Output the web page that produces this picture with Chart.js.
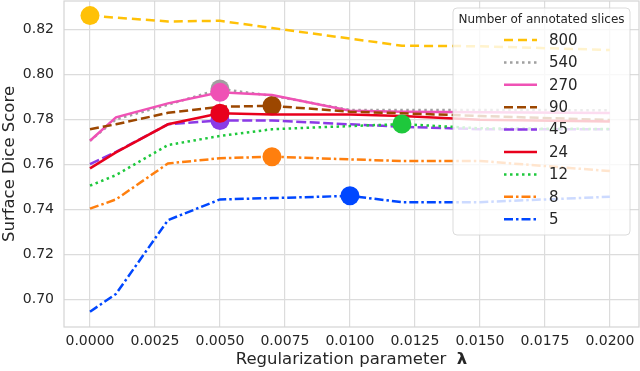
<!DOCTYPE html>
<html><head><meta charset="utf-8">
<script src="https://cdn.jsdelivr.net/npm/chart.js@4/dist/chart.umd.min.js"></script>
<style>html,body{margin:0;padding:0;background:#fff;}#wrap{width:640px;height:371px;position:relative;}</style>
</head><body><div id="wrap"><canvas id="c"></canvas></div>
<script>
const lambdas = [0, 0.001, 0.003, 0.005, 0.007, 0.01, 0.012, 0.015, 0.02];
const seriesNames = ['800', '540', '270', '90', '45', '24', '12', '8', '5'];
const s800 = [0.8261, 0.8252, 0.8235, 0.8238, 0.8206, 0.8159, 0.8127, 0.8125, 0.8108];
const s540 = [0.7705, 0.7800, 0.7865, 0.7935, 0.7905, 0.7842, 0.7842, 0.7842, 0.7840];
const s270 = [0.7705, 0.7809, 0.7871, 0.7920, 0.7908, 0.7838, 0.7834, 0.7832, 0.7828];
const s90  = [0.7756, 0.7778, 0.7829, 0.7856, 0.7860, 0.7834, 0.7827, 0.7815, 0.7797];
const s45  = [0.7601, 0.7655, 0.7778, 0.7795, 0.7795, 0.7778, 0.7767, 0.7756, 0.7756];
const s24  = [0.7582, 0.7653, 0.7778, 0.7827, 0.7822, 0.7822, 0.7815, 0.7798, 0.7790];
const s12  = [0.7505, 0.7552, 0.7686, 0.7726, 0.7756, 0.7770, 0.7779, 0.7760, 0.7757];
const s8   = [0.7403, 0.7444, 0.7604, 0.7627, 0.7634, 0.7622, 0.7615, 0.7615, 0.7570];
const s5   = [0.6945, 0.7024, 0.7352, 0.7444, 0.7450, 0.7460, 0.7432, 0.7432, 0.7456];
const bestIdx = [0, 3, 3, 4, 3, 3, 6, 4, 5];
const xTicks = [0, 0.0025, 0.005, 0.0075, 0.01, 0.0125, 0.015, 0.0175, 0.02];
const yTicks = [0.70, 0.72, 0.74, 0.76, 0.78, 0.80, 0.82];

const allSeries = [s800, s540, s270, s90, s45, s24, s12, s8, s5];
const styles = [
  {color:'#ffc107', dash:[9,5], w:2.5},
  {color:'#a0a0a0', dash:[2.5,3.5], w:2.5},
  {color:'#ef52b5', dash:[], w:2.5},
  {color:'#9c4700', dash:[9,4], w:2.5},
  {color:'#8b3ae6', dash:[10,3.5], w:2.5},
  {color:'#e8001c', dash:[], w:2.5},
  {color:'#1ec83c', dash:[2.5,3.5], w:2.5},
  {color:'#ff7f0e', dash:[9,3,2.5,3], w:2.5},
  {color:'#0047ff', dash:[9,3,2.5,3], w:2.5}
];
const FONT = "'DejaVu Sans', sans-serif";
const TXT = '#262626';

const datasets = [];
for (let i = allSeries.length - 1; i >= 0; i--) {
  const st = styles[i];
  datasets.push({
    label: seriesNames[i],
    data: lambdas.map((x, k) => ({x: x, y: allSeries[i][k]})),
    borderColor: st.color,
    backgroundColor: st.color,
    borderWidth: st.w,
    borderDash: st.dash,
    pointRadius: lambdas.map((x, k) => k === bestIdx[i] ? 9.5 : 0),
    pointBorderWidth: 0,
    pointHoverRadius: 0,
    tension: 0,
    fill: false
  });
}

function zeroPad(s) { s.paddingTop = 0; s.paddingBottom = 0; s.paddingLeft = 0; s.paddingRight = 0; }

const framePlugin = {
  id: 'frame',
  beforeDatasetsDraw(chart) {
    const a = chart.chartArea, ctx = chart.ctx;
    ctx.save();
    ctx.strokeStyle = '#d4d4d4';
    ctx.lineWidth = 1.2;
    ctx.strokeRect(a.left, a.top, a.right - a.left, a.bottom - a.top);
    ctx.restore();
  },
  afterDatasetsDraw(chart) {
    const ctx = chart.ctx;
    ctx.save();
    const bx = 453, by = 8, bw = 177, bh = 227, r = 4;
    ctx.beginPath();
    ctx.moveTo(bx + r, by);
    ctx.arcTo(bx + bw, by, bx + bw, by + bh, r);
    ctx.arcTo(bx + bw, by + bh, bx, by + bh, r);
    ctx.arcTo(bx, by + bh, bx, by, r);
    ctx.arcTo(bx, by, bx + bw, by, r);
    ctx.closePath();
    ctx.fillStyle = 'rgba(255,255,255,0.8)';
    ctx.fill();
    ctx.strokeStyle = 'rgba(210,210,210,0.8)';
    ctx.lineWidth = 1;
    ctx.stroke();
    ctx.fillStyle = TXT;
    ctx.font = '12px ' + FONT;
    ctx.textAlign = 'center';
    ctx.textBaseline = 'middle';
    ctx.fillText('Number of annotated slices', bx + bw / 2, 20);
    ctx.font = '15px ' + FONT;
    ctx.textAlign = 'left';
    for (let i = 0; i < seriesNames.length; i++) {
      const y = 40 + i * 22.4;
      const st = styles[i];
      ctx.beginPath();
      ctx.setLineDash(st.dash);
      ctx.strokeStyle = st.color;
      ctx.lineWidth = st.w;
      ctx.moveTo(504, y);
      ctx.lineTo(537, y);
      ctx.stroke();
      ctx.setLineDash([]);
      ctx.fillStyle = TXT;
      ctx.fillText(seriesNames[i], 549, y + 1);
    }
    const a = chart.chartArea;
    const t1 = 'Regularization parameter  ', t2 = 'λ';
    ctx.font = '16.5px ' + FONT;
    const w1 = ctx.measureText(t1).width;
    ctx.font = 'bold 16.5px ' + FONT;
    const w2 = ctx.measureText(t2).width;
    const cx = (a.left + a.right) / 2;
    const x0 = cx - (w1 + w2) / 2;
    ctx.textBaseline = 'middle';
    ctx.font = '16.5px ' + FONT;
    ctx.fillText(t1, x0, 360);
    ctx.font = 'bold 16.5px ' + FONT;
    ctx.fillText(t2, x0 + w1, 360);
    ctx.restore();
  }
};

new Chart(document.getElementById('c'), {
  type: 'line',
  data: {datasets: datasets},
  options: {
    responsive: true,
    maintainAspectRatio: false,
    animation: false,
    events: [],
    layout: {autoPadding: false, padding: {top: 1, right: 1, left: 0, bottom: 0}},
    plugins: {legend: {display: false}, tooltip: {enabled: false}},
    scales: {
      x: {
        type: 'linear',
        min: -0.001, max: 0.02112,
        afterBuildTicks: s => { s.ticks = xTicks.map(v => ({value: v})); },
        afterFit: s => { s.height = 44; zeroPad(s); },
        grid: {color: '#dcdcdc', lineWidth: 1.2, drawTicks: false},
        border: {display: false},
        ticks: {color: TXT, font: {family: FONT, size: 14}, padding: 6, maxRotation: 0,
                callback: v => Number(v).toFixed(4)}
      },
      y: {
        type: 'linear',
        min: 0.6877, max: 0.8326,
        afterBuildTicks: s => { s.ticks = yTicks.map(v => ({value: v})); },
        afterFit: s => { s.width = 64; zeroPad(s); },
        grid: {color: '#dcdcdc', lineWidth: 1.2, drawTicks: false},
        border: {display: false},
        ticks: {color: TXT, font: {family: FONT, size: 14}, padding: 10,
                callback: v => Number(v).toFixed(2)},
        title: {display: true, text: 'Surface Dice Score', color: TXT,
                font: {family: FONT, size: 16.5}, padding: {top: 0, bottom: 0}}
      }
    }
  },
  plugins: [framePlugin]
});
</script></body></html>
